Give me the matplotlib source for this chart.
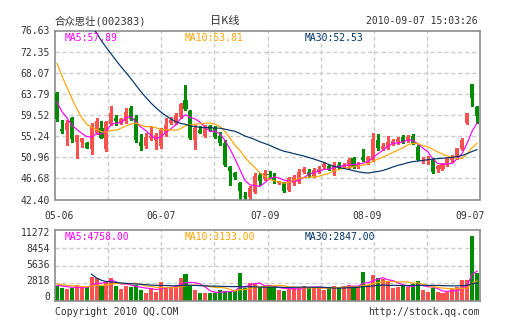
import numpy as np
import pandas as pd
import matplotlib
matplotlib.use("Agg")
import matplotlib.pyplot as plt
import matplotlib.transforms as mtransforms

# ---- estimated history before the visible window (used only for moving averages) ----
prior_close = [101, 102, 100, 99, 98, 97, 96, 95, 94, 92, 90, 88, 85,
               82, 80, 78, 76, 73, 66, 64, 62, 60]
prior_volume = [22000, 13000, 9662, 5200, 4800, 4400, 4074, 3900, 3700, 3500, 3400,
                3300, 3209, 3100, 3000, 2900, 2800, 2750, 2600, 2550, 2480, 2438]

# ---- visible daily data ----
open_ = [64.0, 56.7, 56.5, 58.9, 54.1, 54.1, 53.9, 52.6, 55.8, 56.9,
         52.6, 57.6, 59.0, 57.8, 58.2, 61.0, 58.9, 54.1, 53.2, 54.9,
         54.5, 53.2, 55.6, 57.8, 57.8, 59.2, 62.6, 60.3, 54.5, 56.5,
         55.3, 57.2, 56.8, 55.3, 53.8, 49.0, 47.8, 45.7, 43.05, 42.9,
         44.0, 47.4, 46.5, 47.4, 46.9, 45.7, 45.7, 44.3, 45.7, 46.0,
         48.0, 48.0, 47.2, 48.0, 48.9, 49.2, 48.2, 49.3, 48.9, 49.2,
         50.75, 49.0, 50.95, 49.85, 50.4, 54.45, 52.6, 52.8, 53.6, 54.1,
         55.0, 54.3, 55.3, 53.0, 50.3, 50.2, 50.3, 48.5, 48.5, 49.4,
         50.3, 50.95, 52.6, 57.8, 65.89, 61.1]
high = [64.1, 58.5, 58.5, 59.2, 55.5, 54.9, 54.0, 57.8, 58.9, 58.2,
        58.2, 61.4, 59.5, 58.9, 60.9, 61.3, 59.5, 55.6, 55.8, 57.2,
        55.9, 56.9, 58.9, 59.2, 59.9, 62.0, 65.6, 60.6, 57.5, 57.2,
        57.5, 57.4, 57.2, 56.0, 54.5, 49.2, 48.0, 46.0, 44.0, 45.1,
        47.8, 47.8, 48.4, 48.2, 47.8, 46.2, 45.9, 47.0, 47.3, 48.5,
        49.0, 48.5, 48.8, 49.2, 50.0, 49.4, 49.9, 49.9, 49.7, 50.9,
        51.0, 49.9, 52.6, 51.3, 55.9, 55.6, 53.85, 55.3, 54.6, 55.1,
        55.5, 55.5, 55.6, 53.4, 51.1, 51.2, 50.75, 49.4, 49.8, 50.9,
        51.4, 52.9, 54.8, 59.9, 65.89, 61.3]
low = [58.3, 55.9, 53.4, 54.1, 50.9, 53.0, 52.8, 51.6, 55.7, 54.8,
       52.3, 57.4, 57.5, 57.6, 57.9, 58.5, 54.1, 52.4, 52.8, 54.5,
       52.6, 52.9, 55.3, 57.7, 57.6, 59.0, 60.5, 54.6, 52.6, 55.8,
       55.0, 56.3, 54.8, 53.5, 49.2, 45.3, 46.5, 42.4, 42.5, 42.6,
       43.8, 45.3, 46.3, 46.9, 45.8, 45.5, 43.9, 44.1, 45.4, 45.8,
       47.7, 47.0, 46.9, 47.7, 48.7, 48.3, 47.4, 48.7, 48.7, 48.8,
       48.8, 48.8, 50.1, 49.6, 50.2, 52.5, 52.4, 52.6, 53.4, 53.6,
       53.9, 54.1, 53.7, 50.3, 49.7, 49.5, 47.7, 48.0, 48.3, 49.1,
       50.0, 50.7, 52.4, 57.6, 61.4, 57.8]
close = [58.7, 56.3, 57.8, 54.6, 55.5, 54.9, 52.9, 57.3, 58.2, 54.9,
         58.0, 60.0, 58.2, 58.7, 60.2, 58.7, 54.5, 53.2, 55.1, 55.3,
         55.5, 56.5, 57.5, 58.5, 59.5, 61.7, 60.7, 54.8, 56.8, 55.9,
         56.8, 56.6, 55.1, 53.8, 49.4, 48.2, 46.9, 44.2, 42.95, 44.7,
         47.2, 46.2, 47.7, 47.3, 46.4, 46.0, 44.2, 46.7, 47.0, 48.0,
         48.5, 47.4, 48.4, 48.5, 49.6, 48.6, 49.4, 49.2, 49.4, 50.5,
         49.0, 49.6, 50.4, 51.1, 54.65, 52.8, 53.2, 54.1, 54.3, 54.65,
         54.1, 55.1, 53.9, 50.5, 50.5, 50.5, 48.0, 49.1, 49.6, 50.8,
         51.1, 52.8, 54.45, 59.9, 62.9, 59.4]
volume = [2382, 2117, 1958, 2011, 2488, 2011, 2170, 3800, 3650, 2382,
          3070, 3652, 2382, 1958, 2382, 2276, 2541, 1747, 1323, 2011,
          1482, 3070, 2276, 2011, 2382, 3652, 4288, 2435, 1747, 1323,
          1323, 1217, 1323, 1747, 1641, 1482, 1747, 4393, 2011, 2911,
          2805, 2170, 2170, 2276, 2276, 1747, 1588, 2011, 2011, 2170,
          2382, 2170, 2170, 2170, 1747, 2170, 2382, 2117, 2382, 2541,
          2382, 2382, 4658, 2541, 4129, 3705, 3441, 2964, 2011, 2170,
          2382, 2276, 2700, 3176, 1747, 1482, 2011, 1482, 1217, 1482,
          1853, 2276, 3300, 3300, 10375, 4499]

date_labels = ["05-06", "06-07", "07-09", "08-09", "09-07"]
price_ticks = [42.40, 46.68, 50.96, 55.24, 59.52, 63.79, 68.07, 72.35, 76.63]
vol_ticks = [0, 2818, 5636, 8454, 11272]
price_ma_text = ["MA5:57.89", "MA10:53.81", "MA30:52.53"]
vol_ma_text = ["MA5:4758.00", "MA10:3133.00", "MA30:2847.00"]
title_left = "合众思壮(002383)"
title_mid = "日K线"
title_right = "2010-09-07 15:03:26"
foot_left = "Copyright 2010 QQ.COM"
foot_right = "http://stock.qq.com"

# ---- styling ----
RED = "#FF5050"
GREEN = "#008C00"
C_MA5 = "#FF00FF"
C_MA10 = "#FFA500"
C_MA30 = "#003366"
GRID = "#CCCCCC"
FRAME = "#8C8C8C"
TXT = "#333333"
MONO = "DejaVu Sans Mono"
FS = 7

n = len(close)
x = np.arange(n)
W, H = 505, 330
fig = plt.figure(figsize=(W / 100, H / 100), dpi=100)
fig.patch.set_facecolor("white")

def ax_rect(l, t, r, b):
    return [l / W, (H - b) / H, (r - l) / W, (b - t) / H]

ax1 = fig.add_axes(ax_rect(55, 30.5, 480, 199.5))
ax2 = fig.add_axes(ax_rect(55, 230, 480, 301))

step = 4.942
xlim = (-2 / step, (480 - 57) / step)

def ma(prior, vals, k):
    s = pd.Series(list(prior) + list(vals), dtype=float)
    return s.rolling(k).mean().to_numpy()[len(prior):]

up = np.array(close) >= np.array(open_)
cols = [RED if u else GREEN for u in up]

for ax in (ax1, ax2):
    ax.set_xlim(*xlim)
    for gx in np.linspace(xlim[0], xlim[1], 9)[1:-1]:
        ax.axvline(gx, color=GRID, lw=1, ls=(0, (3, 2)), zorder=0)
    for sp in ax.spines.values():
        sp.set_color(FRAME)
        sp.set_linewidth(1.2)
    ax.tick_params(length=0, colors=TXT, labelsize=FS)
    ax.set_facecolor("white")

# price panel
ax1.set_ylim(price_ticks[0], price_ticks[-1])
ax1.set_yticks(price_ticks)
ax1.set_yticklabels([f"{t:.2f}" for t in price_ticks], fontfamily=MONO, fontsize=FS, color=TXT)
ax1.tick_params(axis="y", pad=4)
for t in price_ticks[1:-1]:
    ax1.axhline(t, color=GRID, lw=1, ls=(0, (3, 2)), zorder=0)

o = np.array(open_); c = np.array(close)
body_lo = np.minimum(o, c)
body_h = np.maximum(np.abs(c - o), 0.2)
ax1.vlines(x, low, high, colors=cols, lw=1, zorder=2, antialiased=False)
ax1.bar(x, body_h, bottom=body_lo, width=0.82, color=cols, lw=0, zorder=3, antialiased=False)

for k, col in ((5, C_MA5), (10, C_MA10), (30, C_MA30)):
    ax1.plot(x, ma(prior_close, close, k), color=col, lw=0.85, zorder=4)

for txt, xp, col in zip(price_ma_text, (65, 185, 305), (C_MA5, C_MA10, C_MA30)):
    ax1.text((xp - 55) / 425, 1 - 7 / 169, txt, transform=ax1.transAxes, ha="left", va="center",
             fontfamily=MONO, fontsize=FS, color=col, zorder=6)

# date labels (between panels)
label_pos = [0.5, 21.1, 42.0, 62.7, 83.5]
ax1.set_xticks(label_pos)
ax1.set_xticklabels(date_labels, fontfamily=MONO, fontsize=FS, color=TXT)
ax1.tick_params(axis="x", pad=8.3)

# volume panel
ax2.set_ylim(vol_ticks[0], vol_ticks[-1])
ax2.set_yticks(vol_ticks)
ax2.set_yticklabels([])
ax2.set_xticks([])
for t in vol_ticks[1:-1]:
    ax2.axhline(t, color=GRID, lw=1, ls=(0, (3, 2)), zorder=0)
label_dy = [4, 2, 0, -1.3, -3]  # pixel nudges of the tick labels
ytr = ax2.get_yaxis_transform()
for t, dy in zip(vol_ticks, label_dy):
    tr = mtransforms.offset_copy(ytr, fig=fig, x=-5, y=dy, units="dots")
    ax2.text(0, t, str(t), transform=tr, ha="right", va="center",
             fontfamily=MONO, fontsize=FS, color=TXT, clip_on=False)

ax2.bar(x, volume, width=0.82, color=cols, lw=0, zorder=2, antialiased=False)
for k, col in ((5, C_MA5), (10, C_MA10), (30, C_MA30)):
    ax2.plot(x, ma(prior_volume, volume, k), color=col, lw=0.85, zorder=4)
for txt, xp, col in zip(vol_ma_text, (65, 185, 305), (C_MA5, C_MA10, C_MA30)):
    ax2.text((xp - 55) / 425, 1 - 7 / 71, txt, transform=ax2.transAxes, ha="left", va="center",
             fontfamily=MONO, fontsize=FS, color=col, zorder=6)

# titles / footers
cjk = [MONO, "Noto Sans CJK SC"]
fig.text(55 / W, 1 - 21 / H, title_left, ha="left", va="center", fontfamily=cjk, fontsize=7.5, color=TXT)
fig.text(225 / W, 1 - 21 / H, title_mid, ha="center", va="center",
         fontfamily=["Noto Sans CJK SC", MONO], fontsize=8, color=TXT)
fig.text(478 / W, 1 - 21 / H, title_right, ha="right", va="center", fontfamily=MONO, fontsize=FS, color=TXT)
fig.text(55 / W, 1 - 312 / H, foot_left, ha="left", va="center", fontfamily=MONO, fontsize=FS, color=TXT)
fig.text(480 / W, 1 - 312 / H, foot_right, ha="right", va="center", fontfamily=MONO, fontsize=FS, color=TXT)

fig.savefig("out.png", dpi=100, facecolor="white")
